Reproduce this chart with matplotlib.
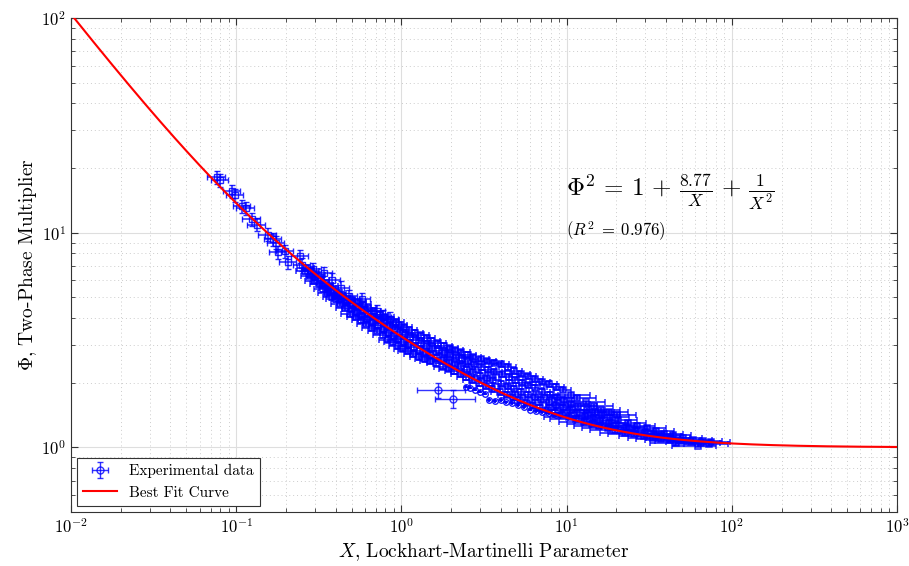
import numpy as np
import matplotlib
matplotlib.use("Agg")
import matplotlib.pyplot as plt

plt.rcParams['font.family'] = 'serif'
plt.rcParams['font.serif'] = ['cmr10']
plt.rcParams['mathtext.fontset'] = 'cm'
plt.rcParams['axes.formatter.use_mathtext'] = True

# fit parameters
C_fit = 8.77
R2 = 0.976

# sparse points at low X (large error bars)
x_low = [0.076, 0.080, 0.094, 0.098, 0.108, 0.114, 0.124, 0.133, 0.155, 0.167,
         0.175, 0.180, 0.197, 0.205, 0.243, 0.250, 0.290, 0.340, 0.380, 0.430,
         0.480, 0.580, 0.710, 0.770, 0.850]
phi_low = [18.2, 17.6, 15.6, 15.0, 13.3, 13.0, 11.6, 10.9, 9.8, 9.3,
           9.0, 8.1, 8.2, 7.3, 7.8, 7.1, 6.75, 6.5, 6.05, 5.55,
           5.05, 4.9, 4.3, 4.07, 3.98]

# dense band of data, X < 10
x_band = [0.26, 0.265, 0.28, 0.285, 0.295, 0.30, 0.31, 0.32, 0.325, 0.335,
          0.345, 0.355, 0.36, 0.37, 0.38, 0.39, 0.40, 0.405, 0.41, 0.425,
          0.43, 0.44, 0.455, 0.46, 0.47, 0.49, 0.50, 0.51, 0.50, 0.53,
          0.54, 0.55, 0.545, 0.57, 0.58, 0.59, 0.585, 0.61, 0.62, 0.63,
          0.625, 0.66, 0.67, 0.68, 0.675, 0.71, 0.72, 0.73, 0.74, 0.77,
          0.78, 0.79, 0.80, 0.83, 0.84, 0.85, 0.86, 0.89, 0.90, 0.91,
          0.93, 0.95, 0.96, 0.98, 0.97, 1.02, 1.03, 1.05, 1.04, 1.09,
          1.10, 1.12, 1.11, 1.18, 1.20, 1.22, 1.21, 1.28, 1.30, 1.32,
          1.31, 1.38, 1.40, 1.43, 1.42, 1.48, 1.50, 1.53, 1.52, 1.62,
          1.65, 1.68, 1.66, 1.78, 1.80, 1.83, 1.82, 1.93, 1.95, 1.98,
          1.96, 2.08, 2.10, 2.13, 2.12, 2.28, 2.30, 2.33, 2.31, 2.47,
          2.50, 2.53, 2.52, 2.68, 2.70, 2.74, 2.72, 2.95, 3.00, 3.04,
          3.02, 3.25, 3.30, 3.35, 3.32, 3.55, 3.60, 3.65, 3.62, 3.95,
          4.00, 4.05, 4.02, 4.35, 4.40, 4.45, 4.42, 4.75, 4.80, 4.86,
          4.82, 5.25, 5.30, 5.36, 5.33, 5.75, 5.80, 5.86, 5.83, 6.30,
          6.40, 6.48, 6.45, 6.95, 7.00, 7.08, 7.05, 7.70, 7.80, 7.90,
          7.85, 8.50, 8.60, 8.70, 8.65, 9.40, 9.50, 9.62, 9.55]
phi_band = [6.6, 6.85, 6.3, 6.6, 5.95, 6.2, 6.35, 5.75, 6.0, 5.45,
            5.7, 5.25, 5.5, 5.65, 5.0, 5.3, 4.9, 5.1, 5.25, 4.65,
            4.9, 5.05, 4.45, 4.7, 4.85, 4.2, 4.4, 4.6, 4.85, 4.05,
            4.25, 4.5, 4.75, 3.9, 4.1, 4.35, 4.65, 3.75, 3.95, 4.2,
            4.45, 3.6, 3.8, 4.05, 4.3, 3.48, 3.7, 3.95, 4.15, 3.32,
            3.55, 3.8, 4.05, 3.18, 3.4, 3.65, 3.92, 3.08, 3.3, 3.55,
            3.82, 2.98, 3.2, 3.45, 3.72, 2.88, 3.1, 3.35, 3.62, 2.82,
            3.0, 3.25, 3.52, 2.72, 2.92, 3.15, 3.42, 2.63, 2.82, 3.05,
            3.33, 2.57, 2.75, 2.96, 3.22, 2.52, 2.7, 2.9, 3.14, 2.46,
            2.62, 2.82, 3.05, 2.38, 2.56, 2.76, 2.98, 2.32, 2.5, 2.7,
            2.9, 2.26, 2.45, 2.64, 2.84, 2.2, 2.4, 2.6, 2.78, 2.12,
            2.3, 2.5, 2.7, 2.06, 2.25, 2.45, 2.64, 1.99, 2.16, 2.36,
            2.58, 1.93, 2.1, 2.3, 2.53, 1.88, 2.05, 2.25, 2.48, 1.82,
            1.98, 2.2, 2.45, 1.76, 1.93, 2.12, 2.36, 1.71, 1.88, 2.05,
            2.28, 1.66, 1.82, 2.0, 2.2, 1.61, 1.76, 1.95, 2.15, 1.57,
            1.72, 1.9, 2.08, 1.53, 1.66, 1.82, 2.02, 1.49, 1.62, 1.76,
            1.98, 1.45, 1.57, 1.72, 1.92, 1.42, 1.53, 1.66, 1.85]

# dense band of data, X >= 10 (wider X error)
x_high = [10.4, 10.5, 10.7, 10.6, 11.4, 11.5, 11.7, 11.6, 12.8, 13.0,
          13.2, 13.1, 14.3, 14.5, 14.8, 14.6, 15.8, 16.0, 16.3, 16.1,
          17.8, 18.0, 18.3, 18.1, 19.7, 20.0, 20.4, 20.2, 22.6, 23.0,
          23.4, 25.6, 26.0, 26.5, 29.5, 30.0, 30.6, 33.5, 34.0, 34.6,
          37.4, 38.0, 38.7, 42.5, 43.0, 43.8, 49.0, 50.5, 57.0, 58.5,
          65.0, 67.0, 73.0, 75.0, 62.0, 46.0]
phi_high = [1.38, 1.49, 1.6, 1.76, 1.35, 1.45, 1.56, 1.7, 1.31, 1.4,
            1.5, 1.62, 1.28, 1.37, 1.46, 1.56, 1.26, 1.33, 1.42, 1.5,
            1.23, 1.3, 1.38, 1.46, 1.2, 1.27, 1.34, 1.42, 1.17, 1.24,
            1.3, 1.15, 1.21, 1.26, 1.13, 1.18, 1.23, 1.11, 1.15, 1.19,
            1.09, 1.13, 1.16, 1.08, 1.11, 1.14, 1.07, 1.1, 1.06, 1.08,
            1.05, 1.07, 1.04, 1.06, 1.02, 1.05]

# lower row of points below the curve
x_row = [2.45, 2.6, 2.8, 3.0, 3.2, 3.4, 3.7, 4.0, 4.3, 4.7,
         5.1, 5.5, 6.0, 6.5, 7.1, 7.8, 8.6]
phi_row = [1.92, 1.9, 1.86, 1.82, 1.78, 1.66, 1.65, 1.66, 1.62, 1.61,
           1.57, 1.54, 1.5, 1.48, 1.46, 1.44, 1.41]

# two outliers with large error bars
x_out = [1.66, 2.04]
phi_out = [1.85, 1.685]
x_out_err = [[0.42, 0.75], [0.44, 0.76]]
phi_out_err = [0.15, 0.16]

blue = '#0000ff'

fig = plt.figure(figsize=(9.09, 5.66), dpi=100)
ax = fig.add_axes([0.0781, 0.0954, 0.9087, 0.8728])

x_low = np.array(x_low)
phi_low = np.array(phi_low)
ax.errorbar(x_low, phi_low, xerr=0.12 * x_low, yerr=0.07 * phi_low,
            fmt='s', mfc='none', mec=blue, ms=4, color=blue, ecolor=blue,
            elinewidth=1.1, capsize=2.5, alpha=0.85, zorder=3)

x_band = np.array(x_band)
phi_band = np.array(phi_band)
ax.errorbar(x_band, phi_band, xerr=0.12 * x_band, yerr=0.025 * phi_band,
            fmt='s', mfc='none', mec=blue, ms=4, mew=1.1, color=blue, ecolor=blue,
            elinewidth=1.2, capsize=2.5, alpha=0.85, zorder=3)

x_high = np.array(x_high)
phi_high = np.array(phi_high)
ax.errorbar(x_high, phi_high, xerr=0.3 * x_high, yerr=0.02 * phi_high,
            fmt='s', mfc='none', mec=blue, ms=4, mew=1.1, color=blue, ecolor=blue,
            elinewidth=1.2, capsize=2.5, alpha=0.85, zorder=3)

x_row = np.array(x_row)
phi_row = np.array(phi_row)
ax.errorbar(x_row, phi_row, xerr=0.03 * x_row, yerr=0.02 * phi_row,
            fmt='o', mfc='none', mec=blue, ms=4, color=blue, ecolor=blue,
            elinewidth=1.5, capsize=0, alpha=0.9, zorder=3)

data_h = ax.errorbar(x_out, phi_out, xerr=np.array(x_out_err).T, yerr=phi_out_err,
                     fmt='o', mfc='none', mec=blue, ms=5, color=blue, ecolor=blue,
                     elinewidth=1, capsize=2.5, alpha=0.8, zorder=3)

# best fit curve
x_fit = np.logspace(-2, 3, 400)
phi_fit = np.sqrt(1 + C_fit / x_fit + 1 / x_fit**2)
fit_h, = ax.plot(x_fit, phi_fit, color='red', lw=1.5, zorder=4)

ax.set_xscale('log')
ax.set_yscale('log')
ax.set_xlim(1e-2, 1e3)
ax.set_ylim(0.5, 100)

ax.grid(True, which='major', color='#dedede', lw=0.8)
ax.grid(True, which='minor', color='#cccccc', lw=0.7, ls=(0, (1, 3)))
ax.tick_params(which='both', direction='in', top=True, right=True,
               labelsize=12, color='#333333')
ax.tick_params(which='major', length=5)
ax.tick_params(which='minor', length=3)
for sp in ax.spines.values():
    sp.set_color('#333333')
    sp.set_linewidth(0.8)

ax.set_xlabel('$X$, Lockhart-Martinelli Parameter', fontsize=14)
ax.set_ylabel('$\\Phi$, Two-Phase Multiplier', fontsize=14, labelpad=2)

ax.text(0.599, 0.648,
        '$\\Phi^2 \\,=\\, 1 \\,+\\, \\frac{%.2f}{X} \\,+\\, \\frac{1}{X^2}$' % C_fit,
        transform=ax.transAxes, fontsize=18, va='center', ha='left')
ax.text(0.599, 0.568, '$(R^2\\;=\\;%.3f)$' % R2,
        transform=ax.transAxes, fontsize=12, va='center', ha='left')

leg = ax.legend([data_h, fit_h], ['Experimental data', 'Best Fit Curve'],
                loc='lower left', fontsize=11, fancybox=False, framealpha=1,
                edgecolor='#333333', borderaxespad=0.4, handlelength=2.2)
leg.get_frame().set_linewidth(0.8)

fig.savefig('out.png', dpi=100)
